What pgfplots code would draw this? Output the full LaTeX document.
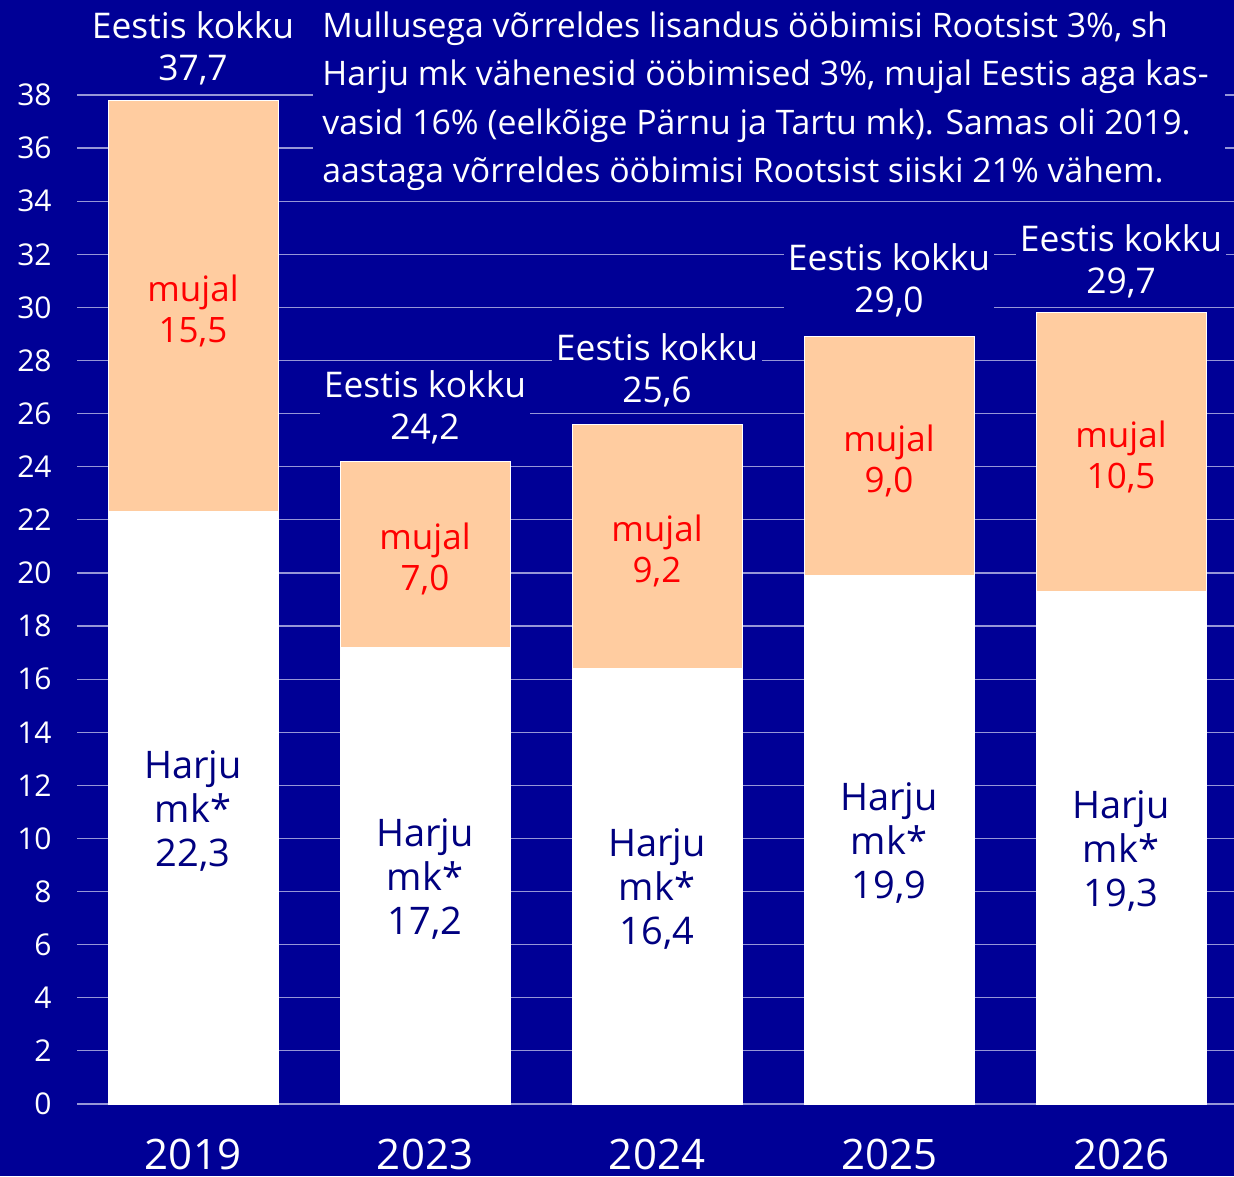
\documentclass[border=0pt]{standalone}
\usepackage{pgfplots}
\pgfplotsset{compat=1.18}
\usepackage{fontspec}
\setmainfont{Open Sans}
\definecolor{bg}{RGB}{0,0,150}
\definecolor{peach}{RGB}{255,204,160}
\definecolor{gridc}{RGB}{150,150,215}
\definecolor{navy}{RGB}{0,0,128}
\definecolor{lblred}{RGB}{255,0,0}
\begin{document}
\begin{tikzpicture}
\useasboundingbox (-38.5pt,-36pt) rectangle (578.5pt,552pt);
\fill[bg] (-38.5pt,-36pt) rectangle (578.5pt,552pt);
\begin{axis}[at={(0,0)}, anchor=south west, scale only axis,
  width=578.5pt, height=504.5pt,
  xmin=-0.5, xmax=4.487, ymin=0, ymax=38,
  ybar stacked, bar width=85pt,
  axis line style={draw=none}, major tick length=0pt,
  ytick={0,2,...,38}, xtick={0,1,2,3,4},
  xticklabels={2019,2023,2024,2025,2026},
  ymajorgrids, grid style={gridc, line width=0.6pt},
  /pgf/number format/assume math mode=true,
  tick label style={white},
  yticklabel style={anchor=east, xshift=-12.5pt, inner sep=0pt, font=\fontsize{15}{15}\selectfont},
  xticklabel style={anchor=center, yshift=-25pt, inner sep=0pt, font=\fontsize{21}{21}\selectfont},
  clip=false,
]
\addplot[fill=white, draw=white, line width=0.5pt] coordinates {(0,22.3) (1,17.2) (2,16.4) (3,19.9) (4,19.3)};
\addplot[fill=peach, draw=white, line width=0.5pt] coordinates {(0,15.5) (1,7.0) (2,9.2) (3,9.0) (4,10.5)};
% anchor points
\coordinate (t0) at (axis cs:0,37.7);
\coordinate (t1) at (axis cs:1,24.2);
\coordinate (t2) at (axis cs:2,25.6);
\coordinate (t3) at (axis cs:3,29.0);
\coordinate (t4) at (axis cs:4,29.7);
\coordinate (m0) at (axis cs:0,30.05);
\coordinate (m1) at (axis cs:1,20.7);
\coordinate (m2) at (axis cs:2,21.0);
\coordinate (m3) at (axis cs:3,24.4);
\coordinate (m4) at (axis cs:4,24.55);
\coordinate (h0) at (axis cs:0,11.15);
\coordinate (h1) at (axis cs:1,8.6);
\coordinate (h2) at (axis cs:2,8.2);
\coordinate (h3) at (axis cs:3,9.95);
\coordinate (h4) at (axis cs:4,9.65);
\end{axis}
% backdrop of the note, covering the grid lines
\fill[bg] (118pt,455pt) rectangle (574pt,552pt);
\tikzset{lbl/.style={align=center, inner sep=0pt},
  tot/.style={lbl, white, fill=bg, inner sep=2pt, anchor=south, yshift=6.5pt, font=\fontsize{17.7}{21}\selectfont},
  muj/.style={lbl, lblred, yshift=-2.5pt, font=\fontsize{17.5}{20.5}\selectfont},
  har/.style={lbl, navy, yshift=-1.5pt, font=\fontsize{19}{22}\selectfont}}
\node[tot] at (t0) {Eestis kokku\\37,7};
\node[tot] at (t1) {Eestis kokku\\24,2};
\node[tot] at (t2) {Eestis kokku\\25,6};
\node[tot] at (t3) {Eestis kokku\\29,0};
\node[tot] at (t4) {Eestis kokku\\29,7};
\node[muj] at (m0) {mujal\\15,5};
\node[muj] at (m1) {mujal\\7,0};
\node[muj] at (m2) {mujal\\9,2};
\node[muj] at (m3) {mujal\\9,0};
\node[muj] at (m4) {mujal\\10,5};
\node[har] at (h0) {Harju\\mk*\\22,3};
\node[har] at (h1) {Harju\\mk*\\17,2};
\node[har] at (h2) {Harju\\mk*\\16,4};
\node[har] at (h3) {Harju\\mk*\\19,9};
\node[har] at (h4) {Harju\\mk*\\19,3};
\node[anchor=north west, white, inner sep=0pt, align=left,
  font=\fontsize{16.9}{24.25}\selectfont] at (122.5pt,546.5pt)
  {Mullusega võrreldes lisandus ööbimisi Rootsist 3\%, sh\\
   Harju mk vähenesid ööbimised 3\%, mujal Eestis aga kas-\\
   vasid 16\% (eelkõige Pärnu ja Tartu mk). Samas oli 2019.\\
   aastaga võrreldes ööbimisi Rootsist siiski 21\% vähem.};
\end{tikzpicture}
\end{document}
